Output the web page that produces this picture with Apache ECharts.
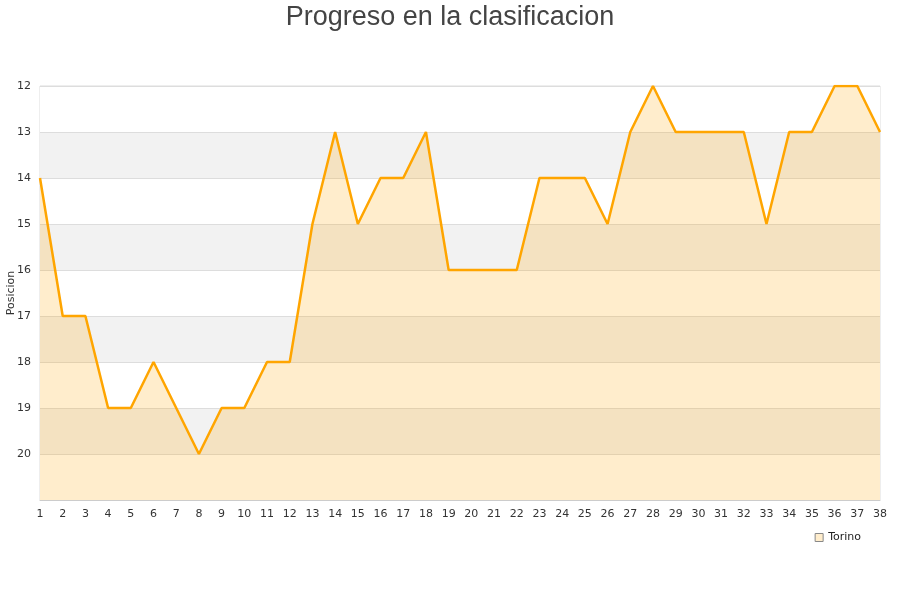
<!DOCTYPE html>
<html><head><meta charset="utf-8">
<script src="https://cdn.jsdelivr.net/npm/echarts@6/dist/echarts.min.js"></script>
<style>html,body{margin:0;padding:0;background:#fff}#c{width:900px;height:600px}</style>
</head><body><div id="c"></div>
<script>
const jornadas = ["1","2","3","4","5","6","7","8","9","10","11","12","13","14","15","16","17","18","19","20","21","22","23","24","25","26","27","28","29","30","31","32","33","34","35","36","37","38"];
const torino = [14,17,17,19,19,18,19,20,19,19,18,18,15,13,15,14,14,13,16,16,16,16,14,14,14,15,13,12,13,13,13,13,15,13,13,12,12,13];
const chart = echarts.init(document.getElementById('c'));
chart.setOption({
  animation: false,
  textStyle: {fontFamily: 'DejaVu Sans'},
  title: {text: 'Progreso en la clasificacion', left: 'center', top: -1,
    textStyle: {fontSize: 27, fontWeight: 'normal', color: '#444', fontFamily: 'Liberation Sans'}},
  grid: {left: 40, right: 20, top: 86, bottom: 100, show: true, borderColor: '#ddd', borderWidth: 1,
    containLabel: false, outerBoundsMode: 'none'},
  legend: {data: [{name: 'Torino', icon: 'rect', itemStyle: {color: '#ffedcc', borderColor: '#888', borderWidth: 1}}],
    right: 34, top: 527, itemWidth: 8, itemHeight: 8, itemGap: 6,
    textStyle: {fontSize: 11, color: '#222'}},
  xAxis: {type: 'category', data: jornadas, boundaryGap: false,
    axisLine: {lineStyle: {color: '#ccc'}}, axisTick: {show: false},
    axisLabel: {color: '#333', fontSize: 11, interval: 0, margin: 9},
    splitLine: {show: false}},
  yAxis: {type: 'value', inverse: true, min: 12, max: 21, interval: 1,
    name: 'Posicion', nameLocation: 'middle', nameGap: 23, nameMoveOverlap: false,
    nameTextStyle: {fontSize: 11, color: '#333'},
    axisLine: {show: false}, axisTick: {show: false},
    axisLabel: {color: '#333', fontSize: 11, margin: 9, formatter: v => v === 21 ? '' : v},
    splitLine: {show: true, lineStyle: {color: '#ddd'}},
    splitArea: {show: true, areaStyle: {color: ['#ffffff', '#f2f2f2']}}},
  series: [{name: 'Torino', type: 'line', data: torino, symbol: 'none',
    lineStyle: {color: '#ffa500', width: 2.5},
    itemStyle: {color: '#ffa500'},
    areaStyle: {color: 'rgba(255,165,0,0.2)', opacity: 1, origin: 'end'}}]
});
</script></body></html>
